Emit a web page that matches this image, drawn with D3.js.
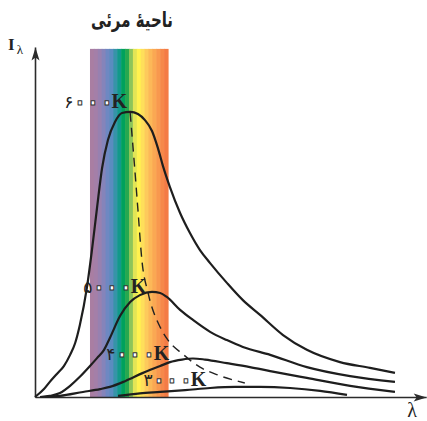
<!DOCTYPE html>
<html>
<head>
<meta charset="utf-8">
<script src="https://cdn.jsdelivr.net/npm/d3@7"></script>
<style>
  body { margin: 0; background: #fff; }
  svg { display: block; }
</style>
</head>
<body>
<div id="chart"></div>
<script>
// curve samples: [lambda, intensity] in arbitrary units
var curve6000 = [[0,0],[2.3,2.2],[3.8,4.2],[5.6,6.4],[7.4,8.6],[9.0,11.7],[10.3,15.0],[11.5,20.0],
  [13.3,30.3],[14.6,40.8],[15.9,52.5],[17.2,63.6],[18.7,71.4],[20.5,76.4],[22.3,78.9],[24.4,79.2],
  [26.4,78.6],[28.2,76.9],[30.0,73.9],[31.5,69.2],[32.8,64.2],[34.6,58.3],[37.2,51.1],[39.7,45.6],
  [42.3,40.8],[44.9,37.2],[49.2,31.7],[53.3,26.9],[57.7,22.8],[63.6,17.2],[69.7,13.1],[78.2,9.7],
  [85.9,8.1],[92.3,6.7]];
var curve5000 = [[1.3,0],[3.8,0.3],[6.4,1.1],[9.0,3.1],[11.5,5.6],[14.1,8.6],[15.9,10.8],[17.7,13.1],
  [19.2,16.4],[21.8,22.5],[24.4,26.4],[26.9,28.3],[30.0,29.2],[32.1,28.9],[33.8,27.8],[37.2,24.2],
  [40.5,21.4],[44.9,18.1],[49.2,15.8],[53.3,13.9],[60.3,11.7],[69.7,8.3],[80.8,5.8],[92.3,4.2]];
var curve4000 = [[2.6,0],[6.4,0.3],[12.3,1.4],[16.7,2.2],[19.2,2.8],[23.1,4.4],[27.7,6.7],[32.1,8.6],
  [34.6,9.7],[37.7,10.4],[40.5,10.7],[43.6,10.4],[49.2,9.4],[55.1,8.3],[60.3,7.2],[69.7,5.3],
  [80.8,3.1],[92.3,1.4]];
var curve3000 = [[21.3,0.3],[26.9,1.0],[32.1,1.4],[38.5,1.9],[44.9,2.5],[51.3,2.8],[57.7,2.8],
  [65.4,2.5],[73.1,1.7],[80.0,0.6]];
// line through the peaks
var peakLine = [[24.4,78.9],[25.4,65.8],[26.4,51.9],[27.4,38.1],[29.0,28.9],[32.1,19.4],[34.1,15.8],
  [37.9,11.9],[42.3,8.3],[46.9,6.1],[53.8,3.9]];

var curveDigits = ["۶", "۵", "۴", "۳"];
var zeroDigit = "۰";
var labelAt = [[23.8,80.3],[28.7,28.9],[34.6,10.3],[44.1,3.1]];

var visibleBand = [14.1, 34.1];
var bandTop = 96.7;
var spectrumColors = ["#a97ea2","#a47fa8","#9781b0","#8584ba","#6e88c2","#5a8cbf","#3694a8",
  "#12998a","#00a15c","#27a84f","#8cc55a","#e2e556","#fff24f","#fedf5a","#fdca5c","#fcb858",
  "#faa853","#f8984e","#f6884a","#f47b45"];

var title = "ناحیهٔ مرئی";

(function() {
  var width = 427, height = 421;

  var x = d3.scaleLinear().domain([0, 100]).range([35, 425]);
  var y = d3.scaleLinear().domain([0, 100]).range([397, 37]);

  var svg = d3.select("#chart").append("svg")
      .attr("width", width)
      .attr("height", height);

  svg.append("defs").append("marker")
      .attr("id", "arrow")
      .attr("viewBox", "-14 -5 15 10")
      .attr("refX", 0).attr("refY", 0)
      .attr("markerWidth", 15).attr("markerHeight", 10)
      .attr("markerUnits", "userSpaceOnUse")
      .attr("orient", "auto")
    .append("path")
      .attr("d", "M0,0L-13,-4L-10,0L-13,4Z")
      .attr("fill", "#2b2b2b");

  // spectrum stripes
  var stripe = d3.scaleBand()
      .domain(d3.range(spectrumColors.length))
      .range([x(visibleBand[0]), x(visibleBand[1])]);

  svg.append("g").selectAll("rect")
      .data(spectrumColors)
    .enter().append("rect")
      .attr("x", function(d, i) { return stripe(i); })
      .attr("y", y(bandTop))
      .attr("width", stripe.bandwidth() + 0.6)
      .attr("height", y(0) - y(bandTop))
      .attr("fill", function(d) { return d; });

  // axes, only the domain lines with arrows
  var xAxis = d3.axisBottom(x.copy().domain([0, 100.3]).range([x(0), x(100.3)]))
      .ticks(0).tickSizeOuter(0);
  var yAxis = d3.axisLeft(y.copy().domain([0, 97.2]).range([y(0), y(97.2)]))
      .ticks(0).tickSizeOuter(0);

  svg.append("g")
      .attr("transform", "translate(0," + y(0) + ")")
      .call(xAxis);
  svg.append("g")
      .attr("transform", "translate(" + x(0) + ",0)")
      .call(yAxis);

  svg.selectAll(".domain")
      .attr("stroke", "#2b2b2b")
      .attr("stroke-width", 1.6)
      .attr("marker-end", "url(#arrow)");

  var line = d3.line()
      .x(function(d) { return x(d[0]); })
      .y(function(d) { return y(d[1]); })
      .curve(d3.curveMonotoneX);

  svg.append("path")
      .attr("d", line(peakLine))
      .attr("fill", "none")
      .attr("stroke", "#222")
      .attr("stroke-width", 1.4)
      .attr("stroke-dasharray", "9,6");

  svg.append("g").selectAll("path")
      .data([curve6000, curve5000, curve4000, curve3000])
    .enter().append("path")
      .attr("d", line)
      .attr("fill", "none")
      .attr("stroke", "#1e1e1e")
      .attr("stroke-width", 2.2);

  // temperature labels: digit, three ring zeros, K
  var labels = svg.append("g").selectAll("text")
      .data(curveDigits)
    .enter().append("text")
      .attr("y", function(d, i) { return y(labelAt[i][1]); })
      .attr("text-anchor", "middle")
      .attr("fill", "#222");
  labels.append("tspan")
      .attr("x", function(d, i) { return x(labelAt[i][0]) - 59; })
      .style("font-family", "'DejaVu Sans', sans-serif")
      .style("font-size", "17px")
      .text(function(d) { return d; });
  [48, 35, 21].forEach(function(off) {
    labels.append("tspan")
        .attr("x", function(d, i) { return x(labelAt[i][0]) - off; })
        .attr("y", function(d, i) { return y(labelAt[i][1]) + 4.5; })
        .style("font-family", "'DejaVu Sans', sans-serif")
        .style("font-size", "34px")
        .attr("fill", "#fff")
        .attr("stroke", "#333")
        .attr("stroke-width", 1)
        .attr("stroke-linejoin", "round")
        .text(zeroDigit);
  });
  labels.append("tspan")
      .attr("x", function(d, i) { return x(labelAt[i][0]) - 8.5; })
      .attr("y", function(d, i) { return y(labelAt[i][1]); })
      .style("font-family", "'Liberation Serif', serif")
      .style("font-weight", "bold")
      .style("font-size", "20px")
      .text("K");

  svg.append("text")
      .attr("x", 132).attr("y", 27)
      .attr("text-anchor", "middle")
      .attr("textLength", 82)
      .attr("lengthAdjust", "spacingAndGlyphs")
      .style("font-family", "'DejaVu Sans', sans-serif")
      .style("font-weight", "bold")
      .style("font-size", "21px")
      .attr("fill", "#222")
      .text(title);

  var yLab = svg.append("text")
      .attr("x", 8).attr("y", 50)
      .attr("fill", "#222");
  yLab.append("tspan")
      .style("font-family", "'Liberation Serif', serif")
      .style("font-weight", "bold")
      .style("font-size", "17px")
      .text("I");
  yLab.append("tspan")
      .attr("dx", 2).attr("dy", 4)
      .style("font-family", "'Liberation Serif', serif")
      .style("font-size", "13px")
      .text("λ");

  svg.append("text")
      .attr("x", 412).attr("y", 417)
      .attr("text-anchor", "middle")
      .style("font-family", "'Liberation Serif', serif")
      .style("font-size", "20px")
      .attr("fill", "#222")
      .text("λ");
})();
</script>
</body>
</html>
